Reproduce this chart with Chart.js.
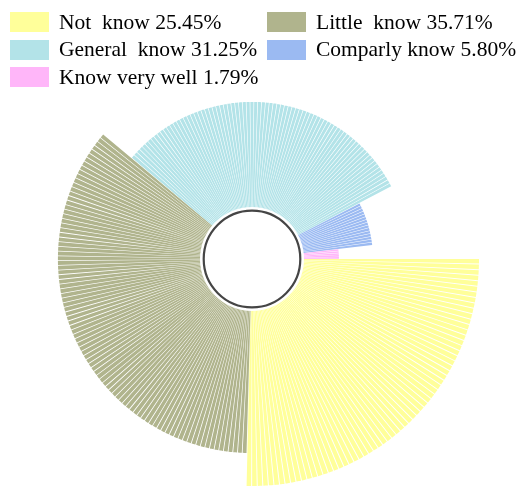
<!DOCTYPE html>
<html>
<head>
<meta charset="utf-8">
<title>Awareness rose</title>
<script src="https://cdn.jsdelivr.net/npm/chart.js@4.4.0/dist/chart.umd.min.js"></script>
<style>
  html, body { margin: 0; padding: 0; background: #fff; }
  body { width: 519px; height: 488px; position: relative; overflow: hidden; }
  #legend { position: absolute; left: 0; top: 0; width: 519px; height: 100px; z-index: 2;
            font-family: "Liberation Serif", "Times New Roman", serif; font-size: 21.5px; color: #000; }
  .item { position: absolute; display: flex; align-items: center; height: 20px; white-space: pre; }
  .swatch { width: 39px; height: 20px; margin-right: 10px; flex: none; }
  #wrap { position: absolute; left: 25px; top: 32px; width: 454px; height: 454px; }
</style>
</head>
<body>
<div id="legend"></div>
<div id="wrap"><canvas id="rose" width="454" height="454"></canvas></div>
<script>
var categories = ['Not  know', 'Little  know', 'General  know', 'Comparly know', 'Know very well'];
var shares = [25.45, 35.71, 31.25, 5.80, 1.79];   // percent of respondents -> sweep of each sector
var roseRadius = [100, 85.5, 69.2, 53.3, 38.3];   // sector length on the radial scale (0-100)
var colors = ['#FFFF9A', '#B0B48D', '#B3E3E8', '#9BBAF2', '#FFB6F9'];

// each sector is drawn as a fan of thin spokes about this many degrees wide,
// with a small empty wedge after every spoke
var spokeStep = 1.4;
var gapShare = 0.18;

var spokeLabels = [], spokeValues = [], spokeAngles = [], spokeColors = [];
categories.forEach(function(name, i) {
    var sweep = shares[i] * 3.6;
    var n = Math.max(1, Math.round(sweep / spokeStep));
    var step = sweep / n;
    for (var k = 0; k < n; k++) {
        spokeLabels.push(name);
        spokeValues.push(roseRadius[i]);
        spokeAngles.push(step * (1 - gapShare));
        spokeColors.push(colors[i]);
        // the gap
        spokeLabels.push('');
        spokeValues.push(roseRadius[i]);
        spokeAngles.push(step * gapShare);
        spokeColors.push('rgba(255,255,255,0)');
    }
});

// legend in two columns, filled row by row
var legend = document.getElementById('legend');
categories.forEach(function(name, i) {
    var item = document.createElement('div');
    item.className = 'item';
    item.style.left = (i % 2 ? 267 : 10) + 'px';
    item.style.top = (12 + Math.floor(i / 2) * 27.5) + 'px';
    var sw = document.createElement('span');
    sw.className = 'swatch';
    sw.style.background = colors[i];
    var txt = document.createElement('span');
    txt.textContent = name + ' ' + shares[i].toFixed(2) + '%';
    item.appendChild(sw);
    item.appendChild(txt);
    legend.appendChild(item);
});

// white hub with a grey ring over the middle of the rose
var hubPlugin = {
    id: 'hub',
    afterDatasetsDraw: function(chart) {
        var r = chart.scales.r;
        var ctx = chart.ctx;
        ctx.save();
        ctx.beginPath();
        ctx.arc(r.xCenter, r.yCenter, 52, 0, Math.PI * 2);
        ctx.fillStyle = '#fff';
        ctx.fill();
        ctx.beginPath();
        ctx.arc(r.xCenter, r.yCenter, 48.3, 0, Math.PI * 2);
        ctx.lineWidth = 2.2;
        ctx.strokeStyle = '#454545';
        ctx.stroke();
        ctx.restore();
    }
};

new Chart(document.getElementById('rose'), {
    type: 'polarArea',
    data: {
        labels: spokeLabels,
        datasets: [{
            data: spokeValues,
            backgroundColor: spokeColors,
            borderWidth: 0,
            angle: function(ctx) { return spokeAngles[ctx.dataIndex]; }
        }]
    },
    options: {
        responsive: false,
        animation: false,
        layout: { padding: 0 },
        scales: {
            r: { display: false, min: 0, max: 100, startAngle: 90 }
        },
        plugins: {
            legend: { display: false },
            tooltip: { enabled: false }
        }
    },
    plugins: [hubPlugin]
});
</script>
</body>
</html>
